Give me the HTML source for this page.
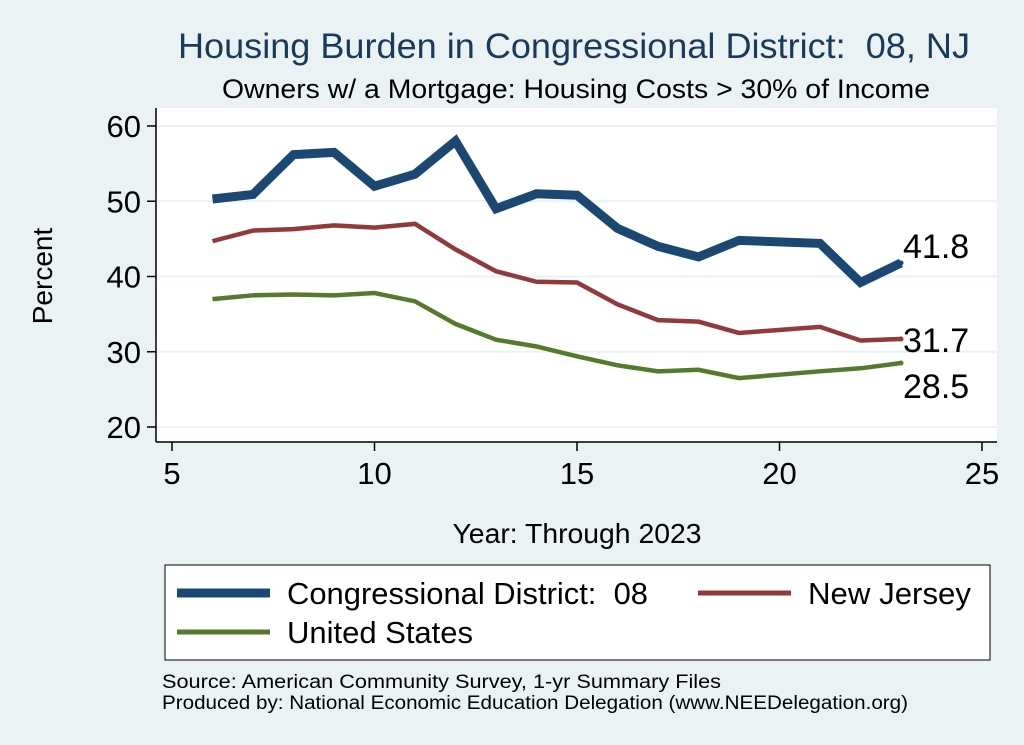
<!DOCTYPE html>
<html><head><meta charset="utf-8"><style>
body{margin:0;background:#eaf2f3;}
svg{display:block;font-family:"Liberation Sans",sans-serif;}
text{white-space:pre;}
</style></head><body>
<svg id="chart" width="1024" height="745" viewBox="0 0 1024 745">
<rect x="0" y="0" width="1024" height="745" fill="#eaf2f3"/>
<text x="574" y="58" font-size="35" fill="#1a3a5c" text-anchor="middle" textLength="792" lengthAdjust="spacingAndGlyphs">Housing Burden in Congressional District:  08, NJ</text>
<text x="576" y="98" font-size="27" fill="#000" text-anchor="middle" textLength="708" lengthAdjust="spacingAndGlyphs">Owners w/ a Mortgage: Housing Costs &gt; 30% of Income</text>
<rect x="156" y="108" width="841" height="334" fill="#fff"/>
<g id="grid"></g>
<line x1="156" y1="108" x2="156" y2="442" stroke="#000" stroke-width="1.5"/>
<line x1="156" y1="442" x2="997" y2="442" stroke="#000" stroke-width="1.5"/>
<g id="ticks"></g>
<g id="series"></g>
<text x="52" y="276" font-size="28" text-anchor="middle" transform="rotate(-90 52 276)">Percent</text>
<text x="577" y="543" font-size="28" text-anchor="middle" textLength="249" lengthAdjust="spacingAndGlyphs">Year: Through 2023</text>
<g>
<rect x="165" y="565" width="825" height="95" fill="#fff" stroke="#000" stroke-width="1"/>
<line x1="177" y1="593" x2="270" y2="593" stroke="#1a4870" stroke-width="9"/>
<text x="287" y="604" font-size="31" textLength="361" lengthAdjust="spacingAndGlyphs">Congressional District:  08</text>
<line x1="698" y1="593" x2="791" y2="593" stroke="#903a3d" stroke-width="5"/>
<text x="808" y="604" font-size="31" textLength="163" lengthAdjust="spacingAndGlyphs">New Jersey</text>
<line x1="177" y1="632" x2="270" y2="632" stroke="#557a2c" stroke-width="5"/>
<text x="287" y="643" font-size="31" textLength="186" lengthAdjust="spacingAndGlyphs">United States</text>
</g>
<text x="162" y="688" font-size="19" textLength="559" lengthAdjust="spacingAndGlyphs">Source: American Community Survey, 1-yr Summary Files</text>
<text x="162" y="709" font-size="19" textLength="746" lengthAdjust="spacingAndGlyphs">Produced by: National Economic Education Delegation (www.NEEDelegation.org)</text>
</svg>
<script>
const years=[6,7,8,9,10,11,12,13,14,15,16,17,18,19,21,22,23];
const cdValues=[50.3,50.9,56.2,56.5,52.0,53.6,58.0,49.0,51.0,50.8,46.4,44.0,42.6,44.8,44.4,39.2,41.8];
const njValues=[44.7,46.1,46.3,46.8,46.5,47.0,43.6,40.7,39.3,39.2,36.3,34.2,34.0,32.5,33.3,31.5,31.7];
const usValues=[37.0,37.5,37.6,37.5,37.8,36.7,33.7,31.6,30.7,29.4,28.2,27.4,27.6,26.5,27.4,27.8,28.5];
const xTicks=[5,10,15,20,25];
const yTicks=[20,30,40,50,60];
const NS="http://www.w3.org/2000/svg";
const xs=v=>172+(v-5)*40.5;
const ys=v=>427-(v-20)*7.525;
function mk(tag,attrs,parent){const e=document.createElementNS(NS,tag);for(const k in attrs)e.setAttribute(k,attrs[k]);parent.appendChild(e);return e;}
const grid=document.getElementById('grid'),ticks=document.getElementById('ticks'),series=document.getElementById('series');
yTicks.forEach(t=>{
 const g=mk('line',{x1:156,x2:997,y1:ys(t),y2:ys(t),stroke:'#eaf2f3','stroke-width':2},grid);
 
 
 const tk=mk('line',{x1:147,x2:156,y1:ys(t),y2:ys(t),stroke:'#000','stroke-width':1.5},ticks);
 
 
 const lb=mk('text',{x:141,y:ys(t)+11,'font-size':31,'text-anchor':'end'},ticks);
 lb.textContent=t;
 
 
});
xTicks.forEach(t=>{
 const tk=mk('line',{x1:xs(t),x2:xs(t),y1:442,y2:451,stroke:'#000','stroke-width':1.5},ticks);
 
 
 const lb=mk('text',{x:xs(t),y:484,'font-size':31,'text-anchor':'middle'},ticks);
 lb.textContent=t;
 
 
});
function drawSeries(vals,color,w,name,labelDy){
 const pts=years.map((y,i)=>xs(y)+','+ys(vals[i])).join(' ');
 const p=mk('polyline',{points:pts,fill:'none',stroke:color,'stroke-width':w,'stroke-linejoin':'miter'},series);
 
 
 const last=vals[vals.length-1],lx=xs(years[years.length-1]);
 const d=mk('circle',{cx:lx,cy:ys(last),r:2.5,fill:color},series);
 
 
 const t=mk('text',{x:lx+2,y:ys(last)+labelDy,'font-size':34},series);
 t.textContent=last.toFixed(1);
 
 
}
drawSeries(usValues,'#557a2c',4.5,'us',35);
drawSeries(njValues,'#903a3d',4.5,'nj',13);
drawSeries(cdValues,'#1a4870',9,'cd08',-5);
</script>
</body></html>
